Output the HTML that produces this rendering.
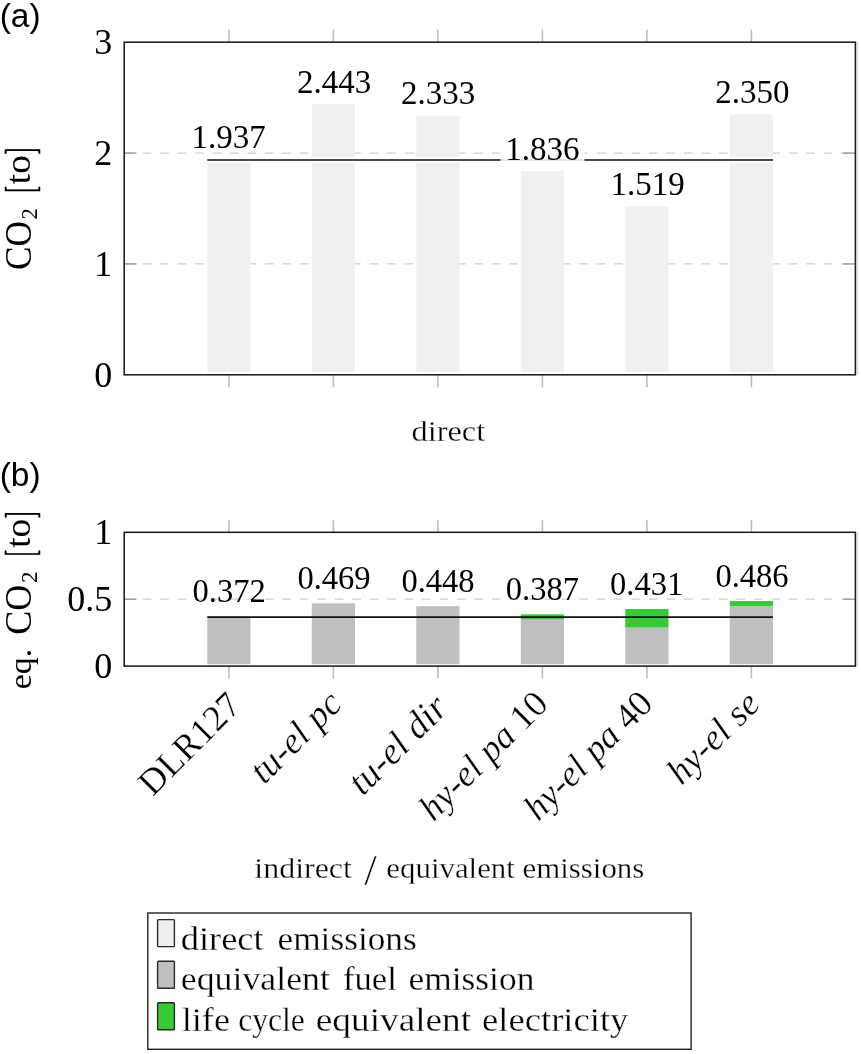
<!DOCTYPE html>
<html><head><meta charset="utf-8"><style>html,body{margin:0;padding:0;background:#fff;width:861px;height:1054px;overflow:hidden}svg{display:block;will-change:transform}text{fill:#000}.w{stroke:#fff;stroke-width:0.3px}.bk{stroke:#000;stroke-width:0.5px}</style></head>
<body>
<svg width="861" height="1054" viewBox="0 0 861 1054">
<rect width="861" height="1054" fill="#fff"/>
<line x1="124.2" y1="263.93" x2="855.4" y2="263.93" stroke="#d0d0d0" stroke-width="1.3" stroke-dasharray="8.7 8.76" stroke-dashoffset="-1"/>
<line x1="124.2" y1="153.07" x2="855.4" y2="153.07" stroke="#d0d0d0" stroke-width="1.3" stroke-dasharray="8.7 8.76" stroke-dashoffset="-1"/>
<line x1="228.90" y1="29.70" x2="228.90" y2="42.20" stroke="#bdbdbd" stroke-width="1.6"/>
<line x1="228.90" y1="374.80" x2="228.90" y2="387.30" stroke="#bdbdbd" stroke-width="1.6"/>
<line x1="333.40" y1="29.70" x2="333.40" y2="42.20" stroke="#bdbdbd" stroke-width="1.6"/>
<line x1="333.40" y1="374.80" x2="333.40" y2="387.30" stroke="#bdbdbd" stroke-width="1.6"/>
<line x1="437.90" y1="29.70" x2="437.90" y2="42.20" stroke="#bdbdbd" stroke-width="1.6"/>
<line x1="437.90" y1="374.80" x2="437.90" y2="387.30" stroke="#bdbdbd" stroke-width="1.6"/>
<line x1="542.40" y1="29.70" x2="542.40" y2="42.20" stroke="#bdbdbd" stroke-width="1.6"/>
<line x1="542.40" y1="374.80" x2="542.40" y2="387.30" stroke="#bdbdbd" stroke-width="1.6"/>
<line x1="646.90" y1="29.70" x2="646.90" y2="42.20" stroke="#bdbdbd" stroke-width="1.6"/>
<line x1="646.90" y1="374.80" x2="646.90" y2="387.30" stroke="#bdbdbd" stroke-width="1.6"/>
<line x1="751.40" y1="29.70" x2="751.40" y2="42.20" stroke="#bdbdbd" stroke-width="1.6"/>
<line x1="751.40" y1="374.80" x2="751.40" y2="387.30" stroke="#bdbdbd" stroke-width="1.6"/>
<line x1="124.2" y1="263.93" x2="136.4" y2="263.93" stroke="#9a9a9a" stroke-width="1.4"/>
<line x1="843.1999999999999" y1="263.93" x2="855.4" y2="263.93" stroke="#9a9a9a" stroke-width="1.4"/>
<line x1="124.2" y1="153.07" x2="136.4" y2="153.07" stroke="#9a9a9a" stroke-width="1.4"/>
<line x1="843.1999999999999" y1="153.07" x2="855.4" y2="153.07" stroke="#9a9a9a" stroke-width="1.4"/>
<rect x="207.30" y="160.05" width="43.2" height="211.95" fill="#f0f0f0"/>
<rect x="311.80" y="103.95" width="43.2" height="268.05" fill="#f0f0f0"/>
<rect x="416.30" y="116.15" width="43.2" height="255.85" fill="#f0f0f0"/>
<rect x="520.80" y="171.25" width="43.2" height="200.75" fill="#f0f0f0"/>
<rect x="625.30" y="206.39" width="43.2" height="165.61" fill="#f0f0f0"/>
<rect x="729.80" y="114.26" width="43.2" height="257.74" fill="#f0f0f0"/>
<line x1="207.30" y1="160.05" x2="773.00" y2="160.05" stroke="#fff" stroke-width="6"/>
<line x1="207.30" y1="160.05" x2="773.00" y2="160.05" stroke="#111" stroke-width="1.6"/>
<text id="la1" x="228.60" y="148.05" font-family="'Liberation Serif', serif" font-size="33" text-anchor="middle">1.937</text>
<text id="la2" x="334.10" y="92.85" font-family="'Liberation Serif', serif" font-size="33" text-anchor="middle">2.443</text>
<text id="la3" x="438.00" y="104.25" font-family="'Liberation Serif', serif" font-size="33" text-anchor="middle">2.333</text>
<rect x="500.6" y="131.75" width="83.9" height="34" fill="#fff" fill-opacity="0.85"/>
<text id="la4" x="542.40" y="159.75" font-family="'Liberation Serif', serif" font-size="33" text-anchor="middle">1.836</text>
<text id="la5" x="647.50" y="195.39" font-family="'Liberation Serif', serif" font-size="33" text-anchor="middle">1.519</text>
<text id="la6" x="752.40" y="102.76" font-family="'Liberation Serif', serif" font-size="33" text-anchor="middle">2.350</text>
<rect x="124.2" y="42.2" width="731.20" height="332.60" fill="none" stroke="#1c1c1c" stroke-width="1.55"/>
<line x1="857.20" y1="42.2" x2="857.20" y2="374.8" stroke="#c8c8c8" stroke-width="1"/>
<text id="ya0" x="112.20" y="386.70" font-family="'Liberation Serif', serif" font-size="36" text-anchor="end">0</text>
<text id="ya1" x="112.20" y="275.83" font-family="'Liberation Serif', serif" font-size="36" text-anchor="end">1</text>
<text id="ya2" x="112.20" y="164.97" font-family="'Liberation Serif', serif" font-size="36" text-anchor="end">2</text>
<text id="ya3" x="112.20" y="54.10" font-family="'Liberation Serif', serif" font-size="36" text-anchor="end">3</text>
<line x1="124.2" y1="599.20" x2="855.4" y2="599.20" stroke="#d0d0d0" stroke-width="1.3" stroke-dasharray="8.7 8.76" stroke-dashoffset="-1"/>
<line x1="228.90" y1="519.80" x2="228.90" y2="532.30" stroke="#bdbdbd" stroke-width="1.6"/>
<line x1="228.90" y1="666.10" x2="228.90" y2="678.60" stroke="#bdbdbd" stroke-width="1.6"/>
<line x1="333.40" y1="519.80" x2="333.40" y2="532.30" stroke="#bdbdbd" stroke-width="1.6"/>
<line x1="333.40" y1="666.10" x2="333.40" y2="678.60" stroke="#bdbdbd" stroke-width="1.6"/>
<line x1="437.90" y1="519.80" x2="437.90" y2="532.30" stroke="#bdbdbd" stroke-width="1.6"/>
<line x1="437.90" y1="666.10" x2="437.90" y2="678.60" stroke="#bdbdbd" stroke-width="1.6"/>
<line x1="542.40" y1="519.80" x2="542.40" y2="532.30" stroke="#bdbdbd" stroke-width="1.6"/>
<line x1="542.40" y1="666.10" x2="542.40" y2="678.60" stroke="#bdbdbd" stroke-width="1.6"/>
<line x1="646.90" y1="519.80" x2="646.90" y2="532.30" stroke="#bdbdbd" stroke-width="1.6"/>
<line x1="646.90" y1="666.10" x2="646.90" y2="678.60" stroke="#bdbdbd" stroke-width="1.6"/>
<line x1="751.40" y1="519.80" x2="751.40" y2="532.30" stroke="#bdbdbd" stroke-width="1.6"/>
<line x1="751.40" y1="666.10" x2="751.40" y2="678.60" stroke="#bdbdbd" stroke-width="1.6"/>
<line x1="124.2" y1="599.20" x2="136.4" y2="599.20" stroke="#9a9a9a" stroke-width="1.4"/>
<line x1="843.1999999999999" y1="599.20" x2="855.4" y2="599.20" stroke="#9a9a9a" stroke-width="1.4"/>
<rect x="207.30" y="616.33" width="43.2" height="47.87" fill="#bfbfbf"/>
<rect x="311.80" y="603.35" width="43.2" height="60.85" fill="#bfbfbf"/>
<rect x="416.30" y="606.16" width="43.2" height="58.04" fill="#bfbfbf"/>
<rect x="520.80" y="619.40" width="43.2" height="44.80" fill="#bfbfbf"/>
<rect x="520.80" y="614.32" width="43.2" height="5.08" fill="#33cc33"/>
<rect x="625.30" y="627.57" width="43.2" height="36.63" fill="#bfbfbf"/>
<rect x="625.30" y="609.03" width="43.2" height="18.53" fill="#33cc33"/>
<rect x="729.80" y="606.16" width="43.2" height="58.04" fill="#bfbfbf"/>
<rect x="729.80" y="601.07" width="43.2" height="5.08" fill="#33cc33"/>
<line x1="207.30" y1="617.1" x2="773.00" y2="617.1" stroke="#111" stroke-width="1.6"/>
<text id="lb1" x="229.20" y="602.43" font-family="'Liberation Serif', serif" font-size="34.4" text-anchor="middle" textLength="73.2" lengthAdjust="spacingAndGlyphs">0.372</text>
<text id="lb2" x="334.00" y="589.15" font-family="'Liberation Serif', serif" font-size="34.4" text-anchor="middle" textLength="73.2" lengthAdjust="spacingAndGlyphs">0.469</text>
<text id="lb3" x="438.00" y="591.96" font-family="'Liberation Serif', serif" font-size="34.4" text-anchor="middle" textLength="73.2" lengthAdjust="spacingAndGlyphs">0.448</text>
<text id="lb4" x="542.40" y="600.22" font-family="'Liberation Serif', serif" font-size="34.4" text-anchor="middle" textLength="73.2" lengthAdjust="spacingAndGlyphs">0.387</text>
<text id="lb5" x="646.70" y="595.23" font-family="'Liberation Serif', serif" font-size="34.4" text-anchor="middle" textLength="73.2" lengthAdjust="spacingAndGlyphs">0.431</text>
<text id="lb6" x="752.00" y="587.47" font-family="'Liberation Serif', serif" font-size="34.4" text-anchor="middle" textLength="73.2" lengthAdjust="spacingAndGlyphs">0.486</text>
<rect x="124.2" y="532.3" width="731.20" height="133.80" fill="none" stroke="#1c1c1c" stroke-width="1.55"/>
<line x1="857.20" y1="532.3" x2="857.20" y2="666.1" stroke="#c8c8c8" stroke-width="1"/>
<text id="yb0" x="112.20" y="678.00" font-family="'Liberation Serif', serif" font-size="36" text-anchor="end">0</text>
<text id="yb05" x="112.20" y="611.10" font-family="'Liberation Serif', serif" font-size="36" text-anchor="end">0.5</text>
<text id="yb1" x="112.20" y="544.20" font-family="'Liberation Serif', serif" font-size="36" text-anchor="end">1</text>
<text id="pa" x="-0.30" y="27.00" font-family="'Liberation Sans', sans-serif" font-size="33.5">(a)</text>
<text id="pb" x="-0.30" y="486.20" font-family="'Liberation Sans', sans-serif" font-size="33.5">(b)</text>
<text id="ylaC" transform="translate(31.43,270.01) rotate(-90) scale(0.9548,1)" font-family="'Liberation Serif', serif" font-size="37.01">CO</text>
<text id="yla2" transform="translate(36.60,219.52) rotate(-90) scale(1.0010,1)" font-family="'Liberation Serif', serif" font-size="22.73">2</text>
<text id="ylab1" class="bk" transform="translate(33.84,192.53) rotate(-90) scale(0.4632,1)" font-family="'Liberation Serif', serif" font-size="41.21">[</text>
<text id="ylato" transform="translate(30.44,184.17) rotate(-90) scale(1.0373,1)" font-family="'Liberation Serif', serif" font-size="35.79">to</text>
<text id="ylab2" class="bk" transform="translate(33.84,154.60) rotate(-90) scale(0.4853,1)" font-family="'Liberation Serif', serif" font-size="41.21">]</text>
<text id="ylbC" transform="translate(31.43,634.74) rotate(-90) scale(0.9755,1)" font-family="'Liberation Serif', serif" font-size="37.01">CO</text>
<text id="ylb2" transform="translate(36.60,582.93) rotate(-90) scale(1.0120,1)" font-family="'Liberation Serif', serif" font-size="22.73">2</text>
<text id="ylbb1" class="bk" transform="translate(33.84,556.13) rotate(-90) scale(0.4632,1)" font-family="'Liberation Serif', serif" font-size="41.21">[</text>
<text id="ylbto" transform="translate(30.44,547.77) rotate(-90) scale(1.0373,1)" font-family="'Liberation Serif', serif" font-size="35.79">to</text>
<text id="ylbb2" class="bk" transform="translate(33.84,518.20) rotate(-90) scale(0.4853,1)" font-family="'Liberation Serif', serif" font-size="41.21">]</text>
<text id="ylbeq" transform="translate(30.80,689.26) rotate(-90) scale(1.0794,1)" font-family="'Liberation Serif', serif" font-size="31.45">eq.</text>
<text id="xla" x="411.60" y="441.10" font-family="'Liberation Serif', serif" font-size="30" class="w" textLength="73.6" lengthAdjust="spacingAndGlyphs">direct</text>
<text id="xlb1" class="w" transform="translate(254.33,878.20) scale(1.0656,1.0000)" font-family="'Liberation Serif', serif" font-size="30">indirect</text>
<text id="xlb2" class="w" transform="translate(364.20,885.20) scale(1.5000,1.4895)" font-family="'Liberation Serif', serif" font-size="30">/</text>
<text id="xlb3" class="w" transform="translate(386.37,878.20) scale(1.0285,1.0000)" font-family="'Liberation Serif', serif" font-size="30">equivalent emissions</text>
<text id="r1" class="w" transform="translate(234.36,698.60) rotate(-45)" font-family="'Liberation Serif', serif" font-style="normal" font-size="36.4" text-anchor="end" dy="12">DLR127</text>
<text id="r2" class="w" transform="translate(335.32,697.30) rotate(-45)" font-family="'Liberation Serif', serif" font-style="italic" font-size="37.2" text-anchor="end" dy="12">tu-el pc</text>
<text id="r3" class="w" transform="translate(441.28,701.30) rotate(-45)" font-family="'Liberation Serif', serif" font-style="italic" font-size="37.9" text-anchor="end" dy="12">tu-el dir</text>
<text id="r4" class="w" transform="translate(541.44,697.30) rotate(-45)" font-family="'Liberation Serif', serif" font-style="italic" font-size="36.6" text-anchor="end" dy="12">hy-el pa <tspan font-style="normal">10</tspan></text>
<text id="r5" class="w" transform="translate(646.10,697.10) rotate(-45)" font-family="'Liberation Serif', serif" font-style="italic" font-size="36.6" text-anchor="end" dy="12">hy-el pa <tspan font-style="normal">40</tspan></text>
<text id="r6" class="w" transform="translate(753.26,697.40) rotate(-45)" font-family="'Liberation Serif', serif" font-style="italic" font-size="36.8" text-anchor="end" dy="12">hy-el se</text>
<rect x="147.8" y="913" width="543.3" height="136.3" fill="#fff" stroke="#222" stroke-width="1.4"/>
<rect x="157.6" y="919.6" width="16.8" height="27" rx="0.8" fill="#efefef" stroke="#2a2a2a" stroke-width="1.4"/>
<rect x="157.6" y="961.3" width="16.8" height="27" rx="0.8" fill="#bfbfbf" stroke="#2a2a2a" stroke-width="1.4"/>
<rect x="157.6" y="1002.7" width="16.8" height="27" rx="0.8" fill="#33cc33" stroke="#2a2a2a" stroke-width="1.4"/>
<text id="leg1_1" class="w" transform="translate(180.73,949.70) scale(1.0711,1.0000)" font-family="'Liberation Serif', serif" font-size="34">direct</text>
<text id="leg1_2" class="w" transform="translate(277.46,949.70) scale(1.0386,1.0000)" font-family="'Liberation Serif', serif" font-size="34">emissions</text>
<text id="leg2_1" class="w" transform="translate(180.75,989.80) scale(1.0536,1.0000)" font-family="'Liberation Serif', serif" font-size="34">equivalent</text>
<text id="leg2_2" class="w" transform="translate(342.88,989.80) scale(1.0196,1.0000)" font-family="'Liberation Serif', serif" font-size="34">fuel</text>
<text id="leg2_3" class="w" transform="translate(408.56,989.80) scale(1.0403,1.0000)" font-family="'Liberation Serif', serif" font-size="34">emission</text>
<text id="leg3_1" class="w" transform="translate(181.73,1031.40) scale(1.0651,1.0000)" font-family="'Liberation Serif', serif" font-size="34">life</text>
<text id="leg3_2" class="w" transform="translate(238.17,1031.40) scale(0.9300,1.0000)" font-family="'Liberation Serif', serif" font-size="34">cycle</text>
<text id="leg3_3" class="w" transform="translate(315.80,1031.40) scale(1.0971,1.0000)" font-family="'Liberation Serif', serif" font-size="34">equivalent</text>
<text id="leg3_4" class="w" transform="translate(482.12,1031.40) scale(1.0763,1.0000)" font-family="'Liberation Serif', serif" font-size="34">electricity</text>
</svg>
</body></html>
